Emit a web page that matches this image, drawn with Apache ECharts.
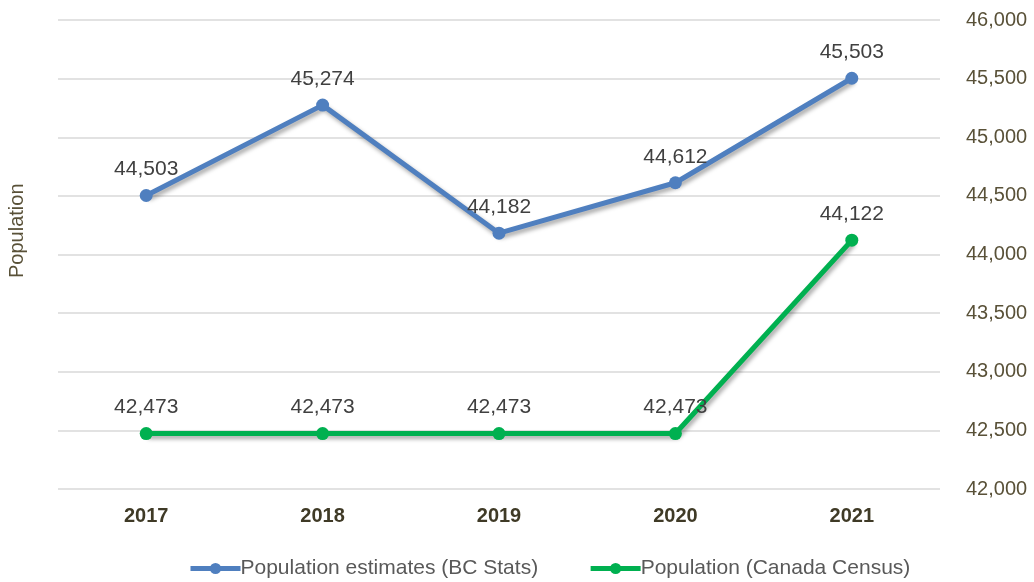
<!DOCTYPE html>
<html>
<head>
<meta charset="utf-8">
<script src="https://cdn.jsdelivr.net/npm/echarts@6/dist/echarts.min.js"></script>
<style>
  html, body { margin: 0; padding: 0; background: #fff; }
  #chart { width: 1034px; height: 582px; }
</style>
</head>
<body>
<div id="chart"></div>
<script>
var years = ["2017", "2018", "2019", "2020", "2021"];
var bcStats = [44503, 45274, 44182, 44612, 45503];
var census = [42473, 42473, 42473, 42473, 44122];
var seriesNames = ["Population estimates (BC Stats)", "Population (Canada Census)"];

var chartDom = document.getElementById("chart");
var myChart = echarts.init(chartDom);

function fmt(v) {
  return v.toLocaleString("en-US");
}

var labelStyle = {
  show: true,
  position: "top",
  distance: 9,
  color: "#404040",
  fontSize: 21,
  fontFamily: "Liberation Sans",
  formatter: function (p) { return fmt(p.value); }
};

var option = {
  animation: false,
  textStyle: { fontFamily: "Liberation Sans" },
  grid: {
    left: 58,
    right: 94,
    top: 20,
    bottom: 93
  },
  legend: {
    top: 553,
    left: 183,
    itemWidth: 50,
    itemHeight: 14,
    itemGap: 50,
    lineStyle: { width: 5 },
    textStyle: { color: "#595959", fontSize: 21, fontFamily: "Liberation Sans", padding: [0, 0, 0, -5] },
    data: seriesNames
  },
  graphic: [
    {
      type: "text",
      x: 7,
      y: 278,
      rotation: Math.PI / 2,
      style: {
        text: "Population",
        fill: "#595138",
        fontSize: 20,
        fontFamily: "Liberation Sans"
      }
    }
  ],
  xAxis: {
    type: "category",
    data: years,
    boundaryGap: true,
    axisLine: { show: false },
    axisTick: { show: false },
    axisLabel: {
      color: "#3f3a26",
      fontSize: 20,
      fontWeight: "bold",
      margin: 17
    }
  },
  yAxis: {
    type: "value",
    position: "right",
    min: 42000,
    max: 46000,
    interval: 500,
    axisLine: { show: false },
    axisTick: { show: false },
    axisLabel: {
      color: "#595138",
      fontSize: 20,
      margin: 26,
      formatter: function (v) { return fmt(v); }
    },
    splitLine: { lineStyle: { color: "#d9d9d9", width: 1.5 } }
  },
  series: [
    {
      name: seriesNames[0],
      type: "line",
      data: bcStats,
      symbol: "circle",
      symbolSize: 13,
      itemStyle: { color: "#4f7fbf" },
      lineStyle: {
        width: 5,
        color: "#4f7fbf",
        shadowColor: "rgba(0,0,0,0.35)",
        shadowBlur: 4,
        shadowOffsetX: 2,
        shadowOffsetY: 3
      },
      label: labelStyle
    },
    {
      name: seriesNames[1],
      type: "line",
      data: census,
      symbol: "circle",
      symbolSize: 13,
      itemStyle: { color: "#00b050" },
      lineStyle: {
        width: 5,
        color: "#00b050",
        shadowColor: "rgba(0,0,0,0.35)",
        shadowBlur: 4,
        shadowOffsetX: 2,
        shadowOffsetY: 3
      },
      label: labelStyle
    }
  ]
};

myChart.setOption(option);
</script>
</body>
</html>
